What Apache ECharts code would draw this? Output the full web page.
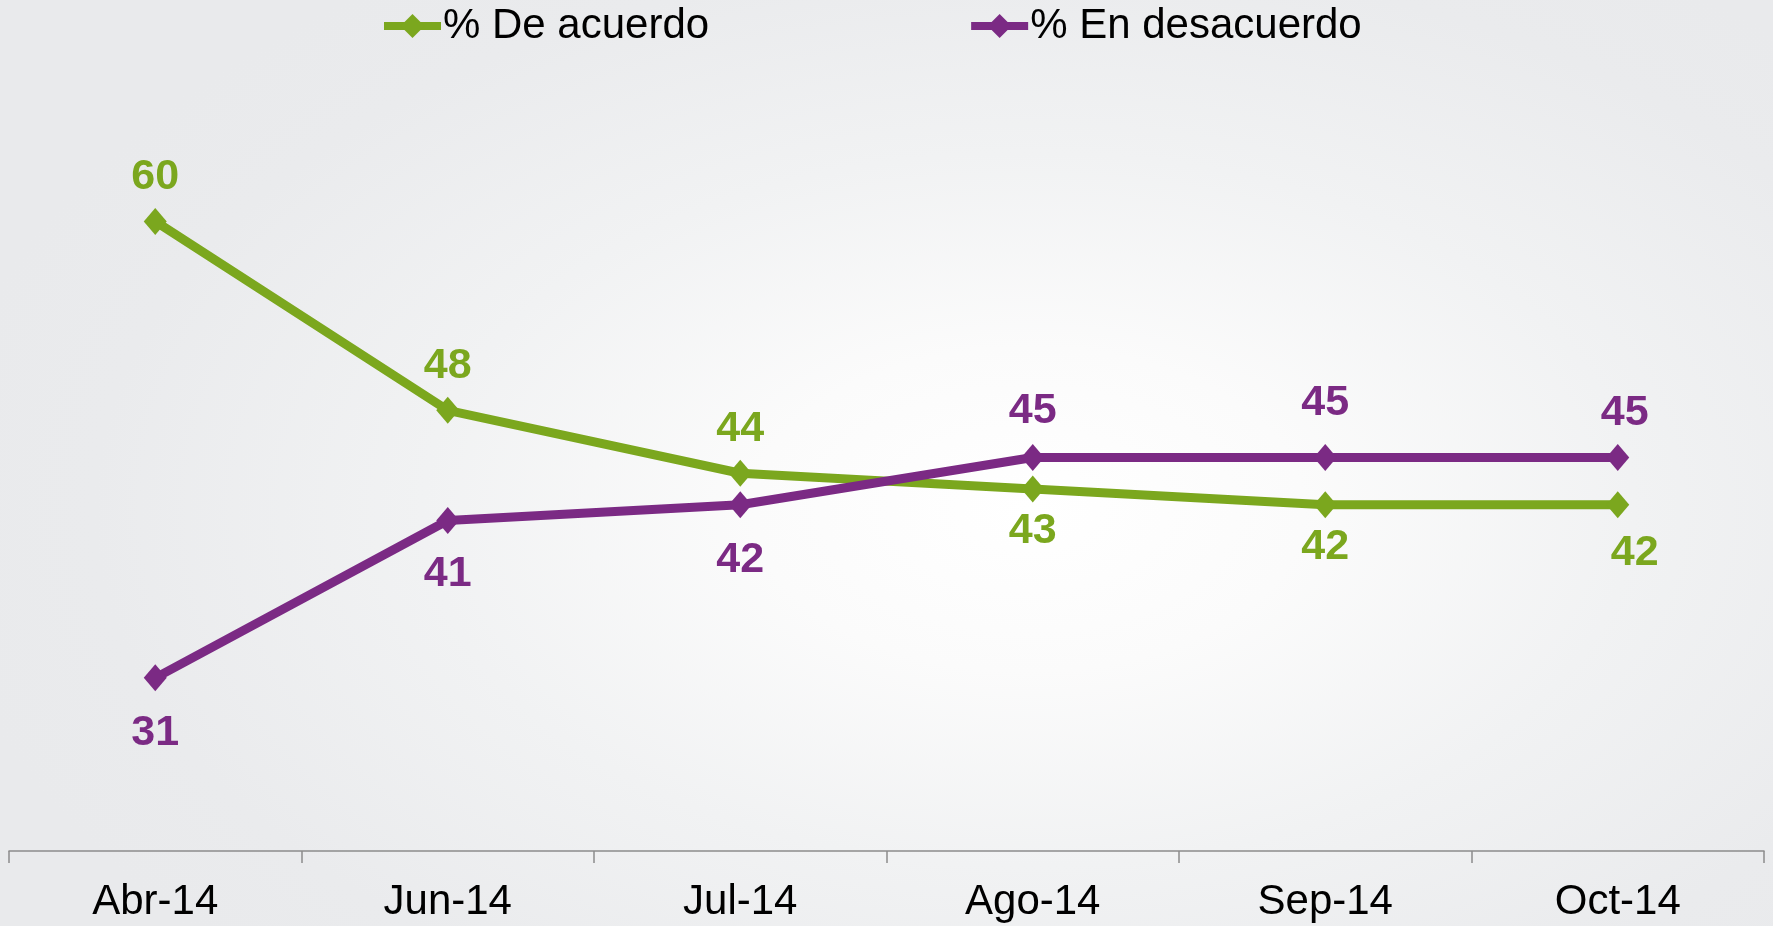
<!DOCTYPE html>
<html>
<head>
<meta charset="utf-8">
<script src="https://cdn.jsdelivr.net/npm/echarts@6/dist/echarts.min.js"></script>
<style>
html,body{margin:0;padding:0;}
body{width:1773px;height:926px;background:radial-gradient(ellipse 62% 70% at 58% 55%, #ffffff 0%, #fbfbfb 25%, #f1f2f3 55%, #eaebed 85%, #e9eaec 100%);}
#chart{width:1773px;height:926px;}
</style>
</head>
<body>
<div id="chart"></div>
<script>
const categories = ['Abr-14','Jun-14','Jul-14','Ago-14','Sep-14','Oct-14'];
const deAcuerdo = [60, 48, 44, 43, 42, 42];
const enDesacuerdo = [31, 41, 42, 45, 45, 45];
const seriesNames = ['% De acuerdo', '% En desacuerdo'];

const GREEN = '#7BA71E';
const PURPLE = '#7B2A84';

const greenLabelPos = ['top','top','top','bottom','bottom','bottom'];
const purpleLabelPos = ['bottom','bottom','bottom','top','top','top'];

function buildData(values, positions, extra) {
  return values.map((v, i) => {
    const e = extra[i] || {};
    return {
      value: v,
      label: {
        position: positions[i],
        distance: e.distance,
        offset: e.offset || [0, 0]
      }
    };
  });
}

const greenData = buildData(deAcuerdo, greenLabelPos, [
  {distance: 9}, {distance: 9}, {distance: 9},
  {distance: 7}, {distance: 7}, {distance: 13, offset: [17, 0]}
]);
const purpleData = buildData(enDesacuerdo, purpleLabelPos, [
  {distance: 20}, {distance: 19}, {distance: 20},
  {distance: 11}, {distance: 19}, {distance: 9, offset: [7, 0]}
]);

const chart = echarts.init(document.getElementById('chart'), null, {renderer: 'canvas'});
const labelStyle = {show: true, fontFamily: 'Liberation Sans, Arial, sans-serif', fontWeight: 'bold', fontSize: 43};
chart.setOption({
  backgroundColor: 'transparent',
  animation: false,
  legend: {
    top: 0,
    left: 375,
    itemGap: 258,
    itemWidth: 57,
    itemHeight: 30,
    lineStyle: {width: 8},
    textStyle: {fontFamily: 'Liberation Sans, Arial, sans-serif', fontSize: 42, color: '#000', padding: [0,0,0,-3]},
    data: seriesNames
  },
  grid: {left: 9, right: 9, top: 64, bottom: 75, containLabel: false},
  xAxis: {
    type: 'category',
    data: categories,
    boundaryGap: true,
    axisLine: {lineStyle: {color: '#8c8c8c', width: 1.5}},
    axisTick: {show: true, length: 12, lineStyle: {color: '#8c8c8c', width: 1.5}},
    axisLabel: {fontFamily: 'Liberation Sans, Arial, sans-serif', fontSize: 42, color: '#000', margin: 30}
  },
  yAxis: {
    type: 'value',
    min: 20,
    max: 70,
    show: false,
    splitLine: {show: false}
  },
  series: [
    {
      name: seriesNames[0],
      type: 'line',
      data: greenData,
      symbol: 'diamond',
      symbolSize: [23, 27],
      lineStyle: {color: GREEN, width: 9},
      itemStyle: {color: GREEN},
      label: Object.assign({color: GREEN}, labelStyle)
    },
    {
      name: seriesNames[1],
      type: 'line',
      data: purpleData,
      symbol: 'diamond',
      symbolSize: [23, 27],
      lineStyle: {color: PURPLE, width: 9},
      itemStyle: {color: PURPLE},
      label: Object.assign({color: PURPLE}, labelStyle)
    }
  ]
});
</script>
</body>
</html>
